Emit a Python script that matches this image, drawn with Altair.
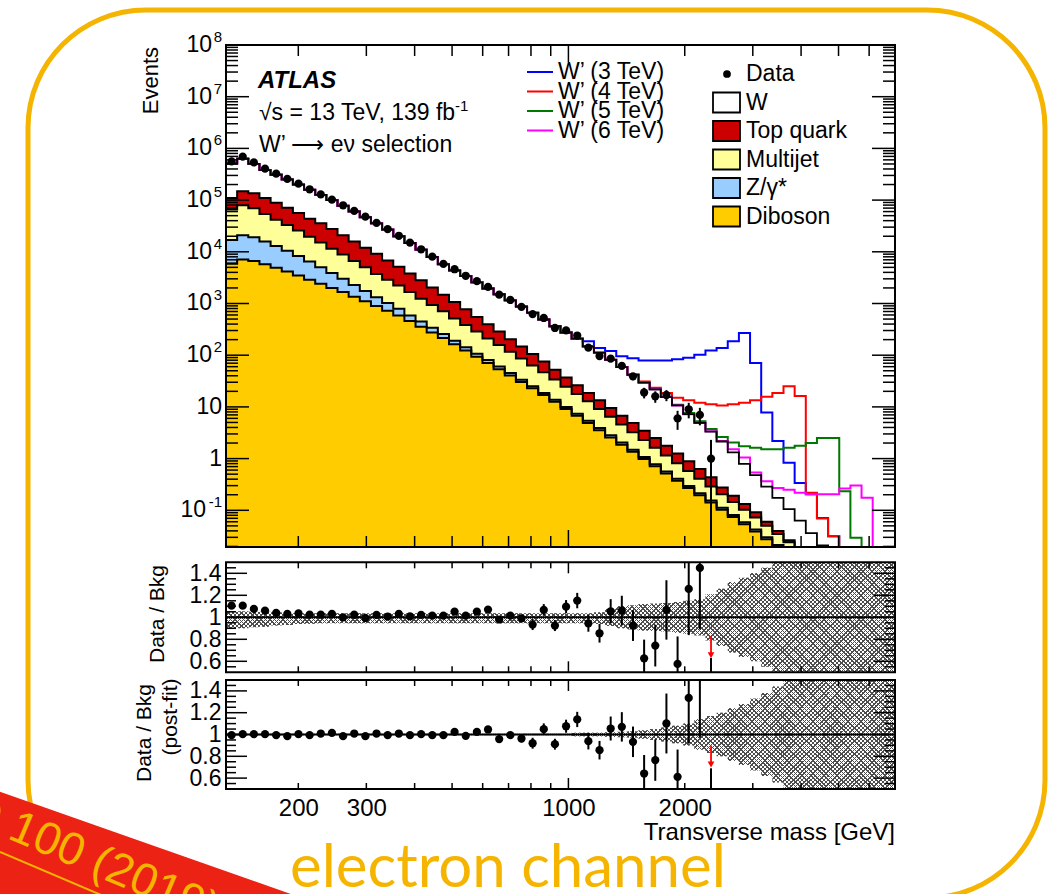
import numpy as np
import pandas as pd
import altair as alt

# ---------------- binning (log-spaced transverse-mass bins) ----------------
N_BINS = 60
MT_MIN, MT_MAX = 130.0, 7000.0
edges = np.geomspace(MT_MIN, MT_MAX, N_BINS + 1)
centers = np.sqrt(edges[:-1] * edges[1:])

# ---------------- stacked backgrounds: cumulative tops (events / bin) ----------------
bkg_total = [5.13e5, 6.31e5, 5.01e5, 3.80e5, 3.09e5, 2.51e5, 2.00e5, 1.58e5, 1.26e5, 1.00e5,
             7.76e4, 6.03e4, 4.68e4, 3.55e4, 2.69e4, 2.00e4, 1.48e4, 1.10e4, 7940, 5750,
             4370, 3390, 2570, 1950, 1510, 1150, 871, 661, 490, 363,
             275, 209, 148, 112, 81.3, 58.9, 41.7, 29.5, 21.9, 15.5,
             10.7, 7.24, 4.90, 3.31, 2.14, 1.32, 0.794, 0.479, 0.288, 0.174,
             0.105, 0.0631, 0.0363, 0.0209, 0.0112, 0.0063, 0.0032, 0.0016, 0.0008, 0.0004]
cum_top = [1.10e5, 1.48e5, 1.35e5, 1.10e5, 8.91e4, 7.08e4, 5.62e4, 4.37e4, 3.55e4, 2.75e4,
           2.09e4, 1.58e4, 1.20e4, 9120, 6760, 5130, 3800, 2820, 2040, 1480,
           1070, 776, 550, 398, 288, 204, 148, 105, 75.9, 52.5,
           37.2, 26.3, 18.6, 13.5, 9.55, 6.76, 4.90, 3.47, 2.51, 1.78,
           1.26, 0.891, 0.631, 0.437, 0.275, 0.191, 0.132, 0.0912, 0.0603, 0.0398,
           0.0263, 0.0174, 0.0112, 0.007, 0.004, 0.002, 0.001, 0.0005, 0.0003, 0.0001]
cum_multijet = [6.61e4, 7.94e4, 6.92e4, 5.37e4, 4.17e4, 3.31e4, 2.57e4, 1.95e4, 1.51e4, 1.15e4,
                8910, 6610, 5010, 3720, 2880, 2240, 1660, 1230, 933, 708,
                513, 385, 288, 211, 158, 116, 86.1, 63.1, 46.8, 33.9,
                24.5, 17.8, 12.9, 9.12, 6.46, 4.57, 3.24, 2.29, 1.62, 1.15,
                0.813, 0.575, 0.407, 0.288, 0.204, 0.145, 0.102, 0.0724, 0.0501, 0.0347,
                0.024, 0.0158, 0.009, 0.005, 0.003, 0.0015, 0.0008, 0.0004, 0.0002, 0.0001]
cum_zgamma = [1.70e4, 2.09e4, 1.91e4, 1.58e4, 1.29e4, 1.05e4, 8320, 6460, 5010, 3890,
              3020, 2290, 1740, 1320, 1020, 794, 589, 447, 339, 257,
              191, 143, 107, 80.4, 60.3, 45.2, 33.5, 25.1, 18.6, 13.8,
              10.0, 7.41, 5.37, 3.89, 2.82, 2.04, 1.48, 1.07, 0.776, 0.562,
              0.407, 0.295, 0.214, 0.155, 0.112, 0.0813, 0.0589, 0.0427, 0.0302, 0.0214,
              0.0141, 0.009, 0.005, 0.003, 0.0015, 0.0008, 0.0004, 0.0002, 0.0001, 0.00005]
diboson = [5890, 7080, 6610, 5750, 4900, 4170, 3470, 2880, 2400, 2000,
           1660, 1350, 1100, 891, 724, 589, 457, 355, 275, 214,
           162, 123, 93.3, 70.8, 53.7, 40.7, 30.2, 22.9, 17.0, 12.6,
           9.12, 6.76, 4.90, 3.55, 2.57, 1.86, 1.35, 0.977, 0.708, 0.513,
           0.372, 0.269, 0.195, 0.141, 0.102, 0.0741, 0.0537, 0.0389, 0.0275, 0.0191,
           0.0126, 0.008, 0.005, 0.003, 0.0015, 0.0008, 0.0004, 0.0002, 0.0001, 0.00005]

# ---------------- W' signals (stacked on background), tails where they leave the background ----------------
sig3_start, sig3_tail = 31, [209, 186, 138, 120, 95.5, 87.1, 79.4, 79.4, 79.4, 83.2, 89.1, 102, 123, 138,
                             186, 269, 70.8, 7.76, 2.19, 0.832, 0.339, 0.204, 0.0708, 0.0316, 0.01,
                             0.003, 0.001, 0.0003, 0.0001]
sig4_start, sig4_tail = 36, [42.7, 30.9, 23.4, 18.6, 15.1, 13.5, 12.0, 11.2, 10.7, 11.2, 12.0, 13.5,
                             15.8, 18.6, 25.1, 16.2, 0.219, 0.0692, 0.0316, 0.0126, 0.005, 0.002, 0.001, 0.0005]
sig5_start, sig5_tail = 40, [11.0, 7.59, 5.25, 3.72, 2.63, 2.04, 1.74, 1.62, 1.51, 1.51, 1.62, 1.78,
                             2.00, 2.51, 2.51, 0.234, 0.0295, 0.01, 0.003, 0.001]
sig6_start, sig6_tail = 43, [3.39, 2.19, 1.51, 1.05, 0.537, 0.363, 0.269, 0.251, 0.219, 0.204, 0.204,
                             0.204, 0.263, 0.302, 0.174, 0.0063, 0.001]

# ---------------- data (bins 0..43) ----------------
data_events = [5.62e5, 6.92e5, 5.37e5, 4.07e5, 3.24e5, 2.57e5, 2.09e5, 1.62e5, 1.29e5, 1.02e5,
               7.94e4, 6.17e4, 4.79e4, 3.63e4, 2.75e4, 2.04e4, 1.51e4, 1.12e4, 8060, 5840,
               4600, 3440, 2700, 2090, 1480, 1170, 862, 625, 525, 336,
               302, 240, 140, 96, 86, 62, 39, 19, 16, 17,
               6, 9, 7, 1]
data_err_up = [750, 830, 730, 640, 570, 510, 460, 400, 360, 320, 280, 250, 220, 190, 166, 143, 123,
               106, 90, 76, 68, 59, 52, 46, 38, 34, 29, 25, 23, 18, 17, 15.5, 12, 10, 9.3, 7.9,
               6.2, 4.4, 4.0, 4.1, 2.4, 3.0, 2.6, 1.3]
data_err_dn = [750, 830, 730, 640, 570, 510, 460, 400, 360, 320, 280, 250, 220, 190, 166, 143, 123,
               106, 90, 76, 68, 59, 52, 46, 38, 34, 29, 25, 23, 18, 17, 15.5, 12, 10, 9.3, 7.9,
               6.2, 4.4, 4.0, 4.1, 2.4, 3.0, 2.6, 0.999]

# ---------------- ratio panels ----------------
ratio_pre = [1.106, 1.106, 1.076, 1.061, 1.040, 1.031, 1.036, 1.025, 1.025, 1.031,
             1.000, 1.025, 0.994, 1.022, 1.006, 1.031, 1.009, 1.022, 1.015, 1.015,
             1.052, 1.015, 1.052, 1.070, 0.980, 1.015, 0.990, 0.934, 1.067, 0.925,
             1.097, 1.152, 0.945, 0.855, 1.055, 1.061, 0.925, 0.627, 0.743, 1.067,
             0.576, 1.258, 1.449, 0.30]
ratio_pre_err = [0.002, 0.002, 0.002, 0.002, 0.002, 0.002, 0.002, 0.003, 0.003, 0.003,
                 0.004, 0.004, 0.005, 0.005, 0.006, 0.007, 0.008, 0.010, 0.011, 0.013,
                 0.015, 0.017, 0.019, 0.022, 0.026, 0.029, 0.034, 0.050, 0.053, 0.050,
                 0.060, 0.070, 0.076, 0.085, 0.110, 0.135, 0.140, 0.170, 0.190, 0.270,
                 0.250, 0.420, 0.560, 0.330]
ratio_post = [0.994, 1.003, 1.003, 1.003, 0.994, 0.985, 1.003, 0.994, 1.009, 1.015,
              0.985, 1.009, 0.985, 1.009, 0.994, 1.009, 0.994, 1.003, 0.994, 0.994,
              1.024, 0.988, 1.024, 1.046, 0.958, 0.994, 0.963, 0.920, 1.049, 0.911,
              1.076, 1.138, 0.939, 0.856, 1.055, 1.070, 0.933, 0.642, 0.765, 1.101,
              0.612, 1.336, 1.620, 0.30]
ratio_post_err = [0.002, 0.002, 0.002, 0.002, 0.002, 0.002, 0.002, 0.003, 0.003, 0.003,
                  0.004, 0.004, 0.005, 0.005, 0.006, 0.007, 0.008, 0.010, 0.011, 0.013,
                  0.015, 0.017, 0.019, 0.022, 0.026, 0.029, 0.034, 0.050, 0.053, 0.050,
                  0.060, 0.070, 0.076, 0.085, 0.110, 0.135, 0.140, 0.170, 0.190, 0.275,
                  0.250, 0.420, 0.650, 0.390]
arrow_bin = 43
arrow_pre = (0.83, 0.655)
arrow_post = (0.90, 0.725)

band_pre_up = [0.055, 0.055, 0.050, 0.050, 0.045, 0.040, 0.036, 0.036, 0.036, 0.036,
               0.036, 0.036, 0.036, 0.036, 0.036, 0.036, 0.036, 0.036, 0.036, 0.036,
               0.036, 0.036, 0.036, 0.036, 0.036, 0.036, 0.036, 0.036, 0.036, 0.036,
               0.036, 0.036, 0.036, 0.045, 0.075, 0.100, 0.110, 0.120, 0.125, 0.130,
               0.140, 0.150, 0.165, 0.210, 0.260, 0.320, 0.360, 0.400, 0.450, 0.500,
               0.500, 0.500, 0.500, 0.500, 0.500, 0.500, 0.500, 0.500, 0.500, 0.500]
band_pre_dn = [0.100, 0.100, 0.090, 0.085, 0.075, 0.070, 0.060, 0.058, 0.055, 0.055,
               0.055, 0.055, 0.055, 0.055, 0.055, 0.055, 0.055, 0.055, 0.055, 0.055,
               0.055, 0.055, 0.055, 0.055, 0.055, 0.055, 0.055, 0.055, 0.055, 0.055,
               0.055, 0.055, 0.055, 0.060, 0.080, 0.100, 0.110, 0.120, 0.125, 0.130,
               0.140, 0.150, 0.165, 0.210, 0.260, 0.320, 0.360, 0.400, 0.450, 0.500,
               0.500, 0.500, 0.500, 0.500, 0.500, 0.500, 0.500, 0.500, 0.500, 0.500]
band_post = [0.008, 0.008, 0.008, 0.008, 0.008, 0.008, 0.008, 0.008, 0.008, 0.008,
             0.008, 0.008, 0.008, 0.008, 0.008, 0.008, 0.008, 0.008, 0.008, 0.008,
             0.008, 0.008, 0.008, 0.008, 0.008, 0.008, 0.008, 0.008, 0.008, 0.008,
             0.008, 0.015, 0.015, 0.015, 0.020, 0.025, 0.030, 0.040, 0.050, 0.065,
             0.080, 0.100, 0.140, 0.170, 0.200, 0.240, 0.280, 0.330, 0.380, 0.440,
             0.500, 0.500, 0.500, 0.500, 0.500, 0.500, 0.500, 0.500, 0.500, 0.500]

# ---------------- axis tick values / labels ----------------
x_tick_labels = [200, 300, 1000, 2000]
x_minor_ticks = [200, 300, 400, 500, 600, 700, 800, 900, 2000, 3000, 4000, 5000, 6000]
x_major_ticks = [1000]
y_exp_values = [1e2, 1e3, 1e4, 1e5, 1e6, 1e7, 1e8]
y_exp_labels = ['2', '3', '4', '5', '6', '7', '8']
y_neg_values, y_neg_labels = [0.1], ['-1']
y_plain_values, y_plain_labels = [1, 10], ['1', '10']
y_main_major = [0.1, 1, 10, 1e2, 1e3, 1e4, 1e5, 1e6, 1e7, 1e8]
y_main_minor = [m * 10.0 ** k for k in range(-2, 8) for m in range(2, 10) if m * 10.0 ** k > 0.0195]
r_major = [0.6, 0.8, 1.0, 1.2, 1.4]
r_minor = [0.55, 0.65, 0.7, 0.75, 0.85, 0.9, 0.95, 1.05, 1.1, 1.15, 1.25, 1.3, 1.35, 1.45]

# ---------------- layout (page pixels) ----------------
F = "Liberation Sans"
OX, OY = 226, 45          # top-left of plot frame on the page
W, H = 669, 744           # frames span page x 226..895, y 45..789
MAIN_RANGE = [502, 0]
R1_RANGE = [627.3, 517.3]
R2_RANGE = [744, 635]
GOLD = "#F5B400"


def px(x):
    return x - OX


def py(y):
    return y - OY


XS = alt.Scale(type="log", domain=[MT_MIN, MT_MAX], nice=False)
XAX = alt.Axis(orient="bottom", values=x_tick_labels, labelExpr="format(datum.value, 'd')",
               ticks=False, domain=False, grid=False, labelFontSize=24, labelFont=F,
               labelColor="black", labelPadding=7, labelFlush=False, labelOverlap=False, title=None)
YM = alt.Scale(type="log", domain=[0.0195, 1e8], range=MAIN_RANGE, nice=False, clamp=True)
YR1 = alt.Scale(domain=[0.5, 1.5], range=R1_RANGE, nice=False, zero=False, clamp=True)
YR2 = alt.Scale(domain=[0.5, 1.5], range=R2_RANGE, nice=False, zero=False, clamp=True)


def r_axis():
    return alt.Axis(orient="left", values=r_major,
                    labelExpr="datum.value == 1 ? '1' : format(datum.value, '.1f')",
                    ticks=False, domain=False, grid=False, labelFontSize=23, labelFont=F,
                    labelColor="black", labelPadding=5, labelFlush=False, labelOverlap=False,
                    title=None)


def X(field="x"):
    return alt.X(f"{field}:Q", scale=XS, axis=XAX, title=None)


ONE = pd.DataFrame({"k": [0]})


def steps(vals, base=1e-4):
    return pd.DataFrame({"x": edges, "y": list(vals) + [vals[-1]], "y0": base})


def text(s, x, y, size=22, color="black", align="left", baseline="alphabetic", angle=0,
         font=F, **kw):
    return alt.Chart(ONE).mark_text(text=s, fontSize=size, color=color, align=align,
                                    baseline=baseline, angle=angle, font=font, **kw).encode(
        x=alt.value(px(x)), y=alt.value(py(y)))


def prule(x0, y0, x1, y1, color, width, cap="butt"):
    return alt.Chart(ONE).mark_rule(color=color, strokeWidth=width, strokeCap=cap).encode(
        x=alt.value(px(x0)), y=alt.value(py(y0)), x2=alt.value(px(x1)), y2=alt.value(py(y1)))


def prect(x0, y0, x1, y1, fill=None, stroke="black", width=1.5, radius=0):
    kw = dict(stroke=stroke, strokeWidth=width, cornerRadius=radius)
    if fill is None:
        kw["fillOpacity"] = 0
        kw["fill"] = "white"
    else:
        kw["fill"] = fill
    return alt.Chart(ONE).mark_rect(**kw).encode(
        x=alt.value(px(x0)), x2=alt.value(px(x1)), y=alt.value(py(y0)), y2=alt.value(py(y1)))


def hatch(sign):
    period, frac = 0.0056, 0.34
    dark, clear = "#4d4d4d", "rgba(255,255,255,0)"
    stops, t = [], 0.0
    while t < 1.0:
        a = round(t, 5)
        b = round(min(t + period * frac, 1.0), 5)
        c = round(min(t + period, 1.0), 5)
        stops += [{"offset": a, "color": dark}, {"offset": b, "color": dark},
                  {"offset": b, "color": clear}, {"offset": c, "color": clear}]
        t += period
    if sign > 0:
        x1, y1, x2, y2 = 0, 0, 1.1338, 0.1864
    else:
        x1, y1, x2, y2 = 0, 1, 1.1338, 0.8136
    return {"gradient": "linear", "x1": x1, "y1": y1, "x2": x2, "y2": y2, "stops": stops}


layers = []
add = layers.append

# slide border (behind everything)
add(prect(28, 10, 1045, 898, fill=None, stroke=GOLD, width=5, radius=118))

# ---------------- main panel: stacked backgrounds ----------------
for vals, col in [(cum_top, "#cc0000"), (cum_multijet, "#ffff99"),
                  (cum_zgamma, "#99ccff"), (diboson, "#ffcc00")]:
    add(alt.Chart(steps(vals)).mark_area(interpolate="step-after", color=col, opacity=1).encode(
        x=X(), y=alt.Y("y:Q", scale=YM, axis=None), y2="y0"))

# signals
for start, tail, col in [(sig3_start, sig3_tail, "#0000ff"), (sig4_start, sig4_tail, "#ff0000"),
                         (sig5_start, sig5_tail, "#007700"), (sig6_start, sig6_tail, "#ff00ff")]:
    add(alt.Chart(steps(bkg_total[:start] + tail)).mark_line(
        interpolate="step-after", color=col, strokeWidth=2).encode(
        x=X(), y=alt.Y("y:Q", scale=YM, axis=None)))

# stack outlines
for vals in [diboson, cum_zgamma, cum_multijet, cum_top]:
    add(alt.Chart(steps(vals)).mark_line(interpolate="step-after", color="black",
                                         strokeWidth=2).encode(
        x=X(), y=alt.Y("y:Q", scale=YM, axis=None)))
add(alt.Chart(steps(bkg_total)).mark_line(interpolate="step-after", color="black",
                                          strokeWidth=1.8).encode(
    x=X(), y=alt.Y("y:Q", scale=YM, axis=None)))

# data
nd = len(data_events)
ddf = pd.DataFrame({"x": centers[:nd], "y": data_events,
                    "lo": np.array(data_events) - np.array(data_err_dn),
                    "hi": np.array(data_events) + np.array(data_err_up)})
add(alt.Chart(ddf).mark_rule(color="black", strokeWidth=2).encode(
    x=X(), y=alt.Y("lo:Q", scale=YM, axis=None), y2="hi"))
add(alt.Chart(ddf).mark_circle(color="black", size=68, opacity=1).encode(
    x=X(), y=alt.Y("y:Q", scale=YM, axis=None)))

# main y-axis labels (10 with raised exponent), placed through the main y scale
def ylabels(vals, labs, x_right, size, dy=0):
    d = pd.DataFrame({"y": vals, "t": labs})
    return alt.Chart(d).mark_text(font=F, fontSize=size, color="black", align="right",
                                  baseline="middle", dy=dy).encode(
        y=alt.Y("y:Q", scale=YM, axis=None), x=alt.value(px(x_right)), text="t:N")


add(ylabels(y_exp_values, ['10'] * len(y_exp_values), 212, 23))
add(ylabels(y_exp_values, y_exp_labels, 222, 15, dy=-8))
add(ylabels(y_neg_values, ['10'], 206, 23))
add(ylabels(y_neg_values, y_neg_labels, 222, 15, dy=-8))
add(ylabels(y_plain_values, y_plain_labels, 222, 23))

# ---------------- ratio panels ----------------
def ratio_panel(scale, up, dn, ratio, err, arrow):
    out = []
    bdf = pd.DataFrame({"x": edges, "hi": [1 + u for u in up] + [1 + up[-1]],
                        "lo": [1 - d for d in dn] + [1 - dn[-1]]})
    for s in (1, -1):
        out.append(alt.Chart(bdf).mark_area(interpolate="step-after", fill=hatch(s)).encode(
            x=X(), y=alt.Y("hi:Q", scale=scale, axis=r_axis() if s == 1 else None), y2="lo"))
    out.append(alt.Chart(pd.DataFrame({"y": [1.0]})).mark_rule(color="black", strokeWidth=2).encode(
        y=alt.Y("y:Q", scale=scale, axis=None), x=alt.value(0), x2=alt.value(W)))
    n = len(ratio)
    rdf = pd.DataFrame({"x": centers[:n], "y": ratio,
                        "lo": np.array(ratio) - np.array(err),
                        "hi": np.array(ratio) + np.array(err)})
    out.append(alt.Chart(rdf).mark_rule(color="black", strokeWidth=2).encode(
        x=X(), y=alt.Y("lo:Q", scale=scale, axis=None), y2="hi"))
    inside = rdf[(rdf.y > 0.5) & (rdf.y < 1.5)]
    out.append(alt.Chart(inside).mark_circle(color="black", size=68, opacity=1).encode(
        x=X(), y=alt.Y("y:Q", scale=scale, axis=None)))
    adf = pd.DataFrame({"x": [centers[arrow_bin]], "top": [arrow[0]], "tip": [arrow[1]]})
    out.append(alt.Chart(adf).mark_rule(color="#ff0000", strokeWidth=1.8).encode(
        x=X(), y=alt.Y("top:Q", scale=scale, axis=None), y2="tip"))
    out.append(alt.Chart(adf).mark_point(shape="triangle-down", filled=True, color="#ff0000",
                                         size=45, opacity=1).encode(
        x=X(), y=alt.Y("tip:Q", scale=scale, axis=None)))
    return out


for lay in ratio_panel(YR1, band_pre_up, band_pre_dn, ratio_pre, ratio_pre_err, arrow_pre):
    add(lay)
for lay in ratio_panel(YR2, band_post, band_post, ratio_post, ratio_post_err, arrow_post):
    add(lay)

# ---------------- ticks (pointing inwards, ROOT style) ----------------
def xticks(vals, y0, y1):
    return alt.Chart(pd.DataFrame({"x": vals})).mark_rule(color="black", strokeWidth=1.5).encode(
        x=X(), y=alt.value(y0), y2=alt.value(y1))


def yticks(vals, scale, x0, x1):
    return alt.Chart(pd.DataFrame({"y": vals})).mark_rule(color="black", strokeWidth=1.5).encode(
        y=alt.Y("y:Q", scale=scale, axis=None), x=alt.value(x0), x2=alt.value(x1))


for top, bot, lmin, lmaj in [(0, 502, 11, 17), (517.3, 627.3, 6, 11), (635, 744, 6, 11)]:
    add(xticks(x_minor_ticks, top, top + lmin))
    add(xticks(x_major_ticks, top, top + lmaj))
    add(xticks(x_minor_ticks, bot, bot - lmin))
    add(xticks(x_major_ticks, bot, bot - lmaj))

add(yticks(y_main_major, YM, 0, 23))
add(yticks(y_main_major, YM, W - 23, W))
add(yticks(y_main_minor, YM, 0, 12))
add(yticks(y_main_minor, YM, W - 12, W))
for sc in (YR1, YR2):
    add(yticks(r_major, sc, 0, 21))
    add(yticks(r_major, sc, W - 21, W))
    add(yticks(r_minor, sc, 0, 10))
    add(yticks(r_minor, sc, W - 10, W))

# frames
for y0, y1 in [(45, 547), (562.3, 672.3), (680, 789)]:
    add(prect(226, y0, 895, y1, fill=None, stroke="black", width=2))

# ---------------- axis titles and annotations ----------------
add(text("Events", 158, 47, size=22, align="right", angle=270))
add(text("Data / Bkg", 164, 614, size=21, align="center", angle=270))
add(text("Data / Bkg", 151, 733, size=21, align="center", angle=270))
add(text("(post-fit)", 177, 717, size=21, align="center", angle=270))
add(text("Transverse mass [GeV]", 895, 840, size=24, align="right"))

add(text("ATLAS", 258, 88, size=24, fontStyle="italic", fontWeight="bold"))
add(text("√s = 13 TeV, 139 fb", 259, 120, size=23))
add(text("-1", 455, 111, size=15))
add(text("W’ ⟶ eν selection", 259, 152, size=23))

# legend: signals
for (lab, col), yy in zip([("W’ (3 TeV)", "#0000ff"), ("W’ (4 TeV)", "#ff0000"),
                           ("W’ (5 TeV)", "#007700"), ("W’ (6 TeV)", "#ff00ff")],
                          [72, 91.5, 111, 130.5]):
    add(prule(527, yy, 553, yy, col, 2))
    add(text(lab, 558, yy, size=23, baseline="middle"))

# legend: data + backgrounds
add(alt.Chart(ONE).mark_circle(color="black", size=60, opacity=1).encode(
    x=alt.value(px(727)), y=alt.value(py(74))))
add(text("Data", 746, 74, size=23, baseline="middle"))
for (lab, col), yy in zip([("W", "white"), ("Top quark", "#cc0000"), ("Multijet", "#ffff99"),
                           ("Z/γ*", "#99ccff"), ("Diboson", "#ffcc00")],
                          [102.5, 131, 159.5, 188, 216.5]):
    add(prect(713, yy - 10, 740, yy + 10, fill=col, stroke="black", width=1.8))
    add(text(lab, 746, yy, size=23, baseline="middle"))

# ---------------- slide decorations ----------------
add(prule(-200, 785, 400, 996, "#ec2314", 120))
add(text("D 100 (2019) 052013", -36, 820, size=46, color=GOLD, align="left", angle=23))
add(prule(0, 852, 320, 988, GOLD, 2))
add(text("electron channel", 290, 887, size=60, color=GOLD, font="Lato"))

chart = alt.layer(*layers).resolve_scale(y="independent").properties(
    width=W, height=H,
    padding={"left": OX, "top": OY, "right": 1053 - OX - W, "bottom": 894 - OY - H},
    autosize=alt.AutoSizeParams(type="none"),
    background="white",
).configure_view(stroke=None)

chart.save("out.html", embed_options={"renderer": "svg", "actions": False})
